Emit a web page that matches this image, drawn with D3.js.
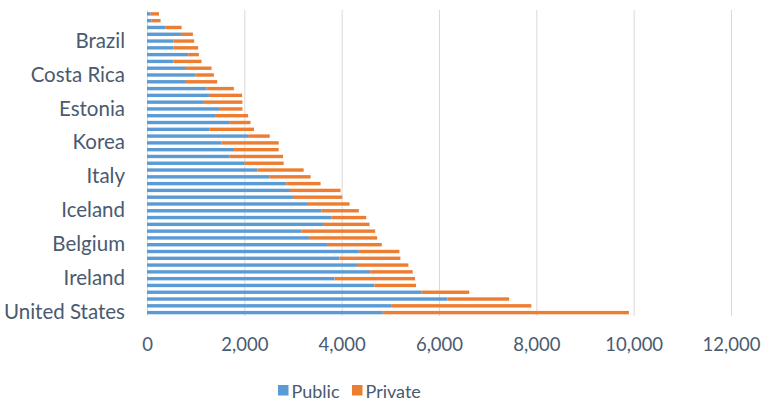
<!DOCTYPE html>
<html>
<head>
<meta charset="utf-8">
<script src="https://cdn.jsdelivr.net/npm/d3@7"></script>
<style>
  html, body { margin: 0; padding: 0; background: #ffffff; }
  svg { display: block; }
  text { font-family: Lato, "Open Sans", sans-serif; fill: #4a5a70; }
</style>
</head>
<body>
<svg id="chart" width="763" height="402"></svg>
<script>
// Health spending per capita, split into public and private sources (top to bottom)
const countries = [
  "India", "Indonesia", "China", "Colombia", "Brazil",
  "South Africa", "Turkey", "Mexico", "Russia", "Costa Rica",
  "Latvia", "Poland", "Hungary", "Greece", "Estonia",
  "Lithuania", "Slovak Republic", "Chile", "Czech Republic", "Korea",
  "Slovenia", "Portugal", "Israel", "Spain", "Italy",
  "New Zealand", "OECD36", "Finland", "United Kingdom", "Iceland",
  "Japan", "France", "Australia", "Canada", "Belgium",
  "Denmark", "Luxembourg", "Sweden", "Netherlands", "Ireland",
  "Austria", "Germany", "Norway", "Switzerland", "United States"
];

const publicSpend = [
  76, 96, 383, 697, 540,
  540, 847, 540, 800, 991,
  800, 1223, 1292, 1169, 1497,
  1415, 1702, 1278, 2077, 1531,
  1790, 1688, 2009, 2269, 2521,
  2863, 2918, 2999, 3307, 3581,
  3786, 3615, 3171, 3327, 3717,
  4353, 3957, 4333, 4585, 3854,
  4674, 5644, 6177, 5016, 4844
];

const privateSpend = [
  170, 184, 328, 246, 430,
  512, 219, 581, 526, 383,
  642, 561, 662, 792, 464,
  662, 424, 922, 445, 1175,
  916, 1107, 799, 950, 841,
  704, 1059, 1013, 855, 772,
  718, 957, 1517, 1402, 1107,
  834, 1250, 1038, 875, 1654,
  855, 978, 1265, 2882, 5058
];

const seriesNames = ["Public", "Private"];
const seriesColors = ["#5b9bd5", "#ed7d31"];
const xTicks = [0, 2000, 4000, 6000, 8000, 10000, 12000];

const rows = countries.map((c, i) => ({ country: c, Public: publicSpend[i], Private: privateSpend[i] }));
const stacked = d3.stack().keys(seriesNames)(rows);

const svg = d3.select("#chart");

const x = d3.scaleLinear().domain([0, 12000]).range([147, 731]);
const y = d3.scaleBand().domain(countries).range([10.5, 316]).paddingInner(0.5).paddingOuter(0.25);

// vertical gridlines
svg.append("g")
  .selectAll("line")
  .data(xTicks)
  .join("line")
  .attr("x1", d => x(d) + 0.5)
  .attr("x2", d => x(d) + 0.5)
  .attr("y1", 10)
  .attr("y2", 316)
  .attr("stroke", "#d9d9d9")
  .attr("stroke-width", 1);

// stacked bars
svg.append("g")
  .selectAll("g")
  .data(stacked)
  .join("g")
  .attr("fill", (d, i) => seriesColors[i])
  .selectAll("rect")
  .data(d => d)
  .join("rect")
  .attr("x", d => x(d[0]))
  .attr("width", d => x(d[1]) - x(d[0]))
  .attr("y", d => y(d.data.country))
  .attr("height", y.bandwidth());

// category axis: every fifth country counted from the bottom
const n = countries.length;
const shown = countries.filter((c, i) => (n - 1 - i) % 5 === 0);
const yAxis = d3.axisLeft(y).tickValues(shown).tickSize(0).tickPadding(22);
const gy = svg.append("g").attr("transform", "translate(147,0)").call(yAxis);
gy.select(".domain").remove();
gy.selectAll("text")
  .attr("font-size", 20.5)
  .attr("font-family", "Lato, 'Open Sans', sans-serif")
  .attr("fill", "#4a5a70");

// value axis
const xAxis = d3.axisBottom(x).tickValues(xTicks).tickSize(0).tickPadding(0)
  .tickFormat(d3.format(","));
const gx = svg.append("g").attr("transform", "translate(0,338)").call(xAxis);
gx.select(".domain").remove();
gx.selectAll("text")
  .attr("font-size", 18.5)
  .attr("font-family", "Lato, 'Open Sans', sans-serif")
  .attr("fill", "#4a5a70");

// legend
const legendX = [278, 352];
const legend = svg.append("g")
  .selectAll("g")
  .data(seriesNames)
  .join("g")
  .attr("transform", (d, i) => `translate(${legendX[i]},0)`);
legend.append("rect")
  .attr("x", 0).attr("y", 385)
  .attr("width", 10.5).attr("height", 10.5)
  .attr("fill", (d, i) => seriesColors[i]);
legend.append("text")
  .attr("x", 13.5).attr("y", 397.5)
  .attr("font-size", 18)
  .text(d => d);
</script>
</body>
</html>
